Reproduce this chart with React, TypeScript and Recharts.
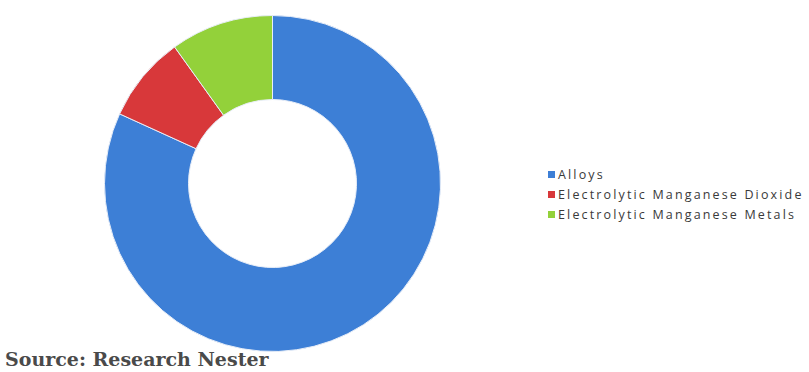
import React from "react";
import { PieChart, Pie, Cell, Legend } from "recharts";

const categories = ["Alloys", "Electrolytic Manganese Dioxide", "Electrolytic Manganese Metals"];
const shares = [81.8, 8.3, 9.9];
const colors = ["#3d7fd6", "#d8383a", "#93d13a"];
const sourceText = "Source: Research Nester";

const data = categories.map((name, i) => ({ name, value: shares[i] }));

const LegendContent = () => (
  <div style={{ fontFamily: "'Open Sans', 'Liberation Sans', sans-serif", fontSize: 12.5, color: "#3a3a3a", letterSpacing: 2.15 }}>
    {categories.map((c, i) => (
      <div key={c} style={{ display: "flex", alignItems: "center", height: 20, whiteSpace: "nowrap" }}>
        <span style={{ display: "inline-block", width: 7, height: 7, background: colors[i], marginRight: 3 }} />
        <span>{c}</span>
      </div>
    ))}
  </div>
);

export default function App() {
  return (
    <div style={{ position: "absolute", left: 0, top: 0, width: 809, height: 372, background: "#fff", overflow: "hidden" }}>
      <PieChart width={809} height={372} margin={{ top: 0, right: 0, bottom: 0, left: 0 }}>
        <Pie
          data={data}
          dataKey="value"
          nameKey="name"
          cx={272.5}
          cy={183.5}
          innerRadius={84}
          outerRadius={168}
          startAngle={90}
          endAngle={-270}
          stroke="#e8eef8"
          strokeWidth={1}
          isAnimationActive={false}
        >
          {data.map((d, i) => (
            <Cell key={d.name} fill={colors[i]} />
          ))}
        </Pie>
        <Legend
          content={<LegendContent />}
          wrapperStyle={{ position: "absolute", left: 548, top: 164, width: 261 }}
        />
      </PieChart>
      <div
        style={{
          position: "absolute",
          left: 5,
          top: 348,
          fontFamily: "'DejaVu Serif', serif",
          fontSize: 19,
          fontWeight: "bold",
          color: "#4a4a4a",
          whiteSpace: "nowrap",
        }}
      >
        {sourceText}
      </div>
    </div>
  );
}
